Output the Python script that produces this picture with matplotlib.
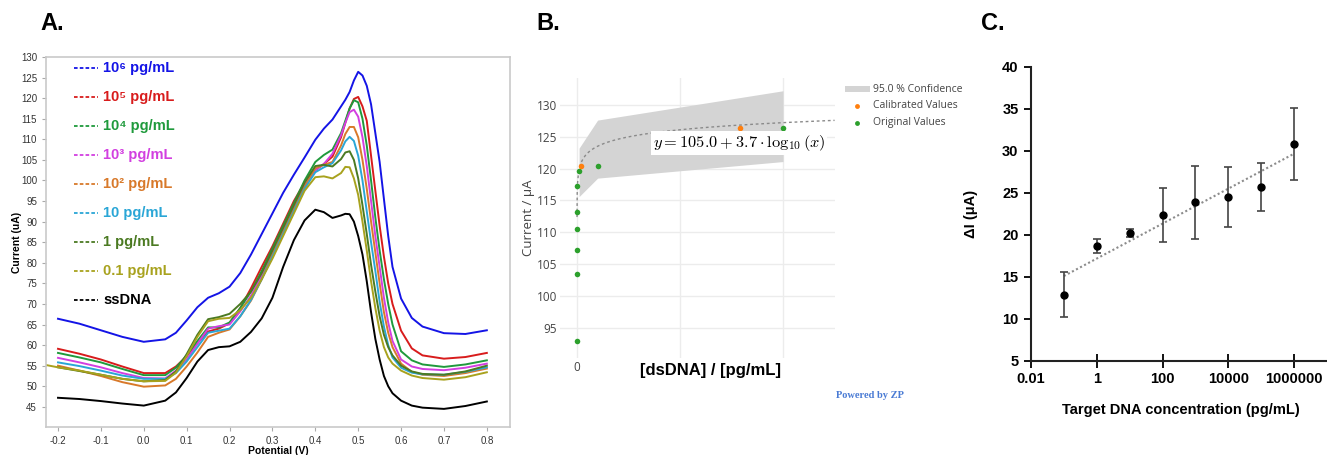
import numpy as np
import matplotlib
matplotlib.use("Agg")
import matplotlib.pyplot as plt
from matplotlib.lines import Line2D
from matplotlib.patches import Rectangle

W, H = 1327, 455
nan = np.nan

# ---------------- Panel A data (DPV curves) ----------------
potential = [-0.23, -0.2, -0.15, -0.1, -0.05, 0.0, 0.05, 0.075, 0.1, 0.125, 0.15, 0.175,
             0.2, 0.225, 0.25, 0.275, 0.3, 0.325, 0.35, 0.375, 0.4, 0.42, 0.44, 0.46,
             0.47, 0.48, 0.49, 0.5, 0.51, 0.52, 0.53, 0.54, 0.55, 0.56, 0.57, 0.58,
             0.6, 0.625, 0.65, 0.7, 0.75, 0.8]

cur_1e6 = [nan, 66.4, 65.2, 63.6, 62.0, 60.8, 61.4, 63.0, 66.0, 69.2, 71.5, 72.6,
           74.2, 77.5, 82.0, 87.0, 92.0, 97.0, 101.4, 105.6, 109.9, 112.6, 114.8, 118.0,
           119.6, 121.5, 124.3, 126.4, 125.5, 123.0, 118.5, 111.5, 104.5, 95.5, 86.5, 79.0,
           71.3, 66.6, 64.5, 62.9, 62.7, 63.6]
cur_1e5 = [nan, 59.1, 57.9, 56.5, 54.8, 53.2, 53.2, 54.8, 57.3, 60.5, 63.3, 64.0,
           65.3, 69.0, 73.8, 79.0, 84.0, 89.5, 95.0, 99.5, 102.5, 104.0, 105.8, 110.5,
           114.0, 117.5, 119.8, 120.3, 118.0, 114.5, 106.0, 97.5, 89.0, 81.5, 75.0, 70.0,
           63.5, 59.2, 57.5, 56.7, 57.1, 58.1]
cur_1e4 = [nan, 58.1, 57.0, 55.8, 54.2, 52.7, 52.7, 54.5, 57.5, 61.0, 64.3, 64.3,
           65.5, 69.0, 73.0, 78.0, 83.5, 89.0, 94.5, 100.0, 104.5, 106.2, 107.5, 111.5,
           114.5, 117.5, 119.5, 119.0, 115.0, 108.5, 100.0, 91.0, 83.0, 76.0, 70.0, 65.0,
           58.5, 56.3, 55.3, 54.7, 55.3, 56.3]
cur_1e3 = [nan, 56.9, 55.8, 54.6, 53.2, 52.0, 51.9, 53.8, 56.5, 60.3, 64.0, 64.6,
           65.0, 68.2, 72.0, 77.0, 82.5, 88.0, 93.5, 99.0, 102.5, 104.0, 106.5, 111.0,
           114.0, 116.6, 117.2, 115.5, 110.5, 103.5, 95.0, 86.5, 79.0, 71.5, 65.5, 61.0,
           56.5, 54.8, 54.2, 53.9, 54.5, 55.5]
cur_1e2 = [nan, 55.0, 53.8, 52.5, 51.0, 49.9, 50.2, 51.8, 54.8, 58.2, 62.0, 63.0,
           63.8, 67.0, 70.8, 76.0, 82.0, 87.5, 93.0, 98.5, 103.0, 103.8, 104.5, 108.5,
           111.3, 113.0, 113.0, 110.5, 105.0, 98.0, 90.0, 82.5, 75.0, 68.0, 63.0, 59.5,
           55.5, 53.5, 52.8, 52.5, 53.2, 54.3]
cur_1e1 = [nan, 55.8, 54.9, 53.8, 52.6, 51.8, 51.8, 53.2, 56.0, 59.5, 63.0, 63.5,
           64.0, 67.0, 71.0, 76.0, 81.5, 87.0, 92.5, 98.0, 102.0, 103.2, 104.2, 107.3,
           109.5, 110.6, 109.6, 106.0, 100.0, 92.5, 85.0, 78.0, 70.5, 64.5, 60.0, 57.0,
           54.5, 53.3, 52.9, 52.8, 53.5, 54.6]
cur_1e0 = [nan, 54.6, 53.7, 52.8, 51.8, 51.2, 51.5, 53.6, 57.8, 62.5, 66.3, 66.8,
           67.6, 70.0, 73.0, 77.5, 83.0, 88.5, 94.0, 99.5, 103.5, 103.8, 103.4, 105.2,
           106.8, 107.1, 105.0, 100.5, 94.0, 87.0, 79.5, 73.0, 67.0, 62.5, 59.5, 57.5,
           55.0, 53.6, 53.0, 52.8, 53.6, 55.0]
cur_1e_1 = [55.2, 54.6, 53.8, 52.8, 51.8, 51.2, 51.3, 53.3, 57.3, 62.0, 65.8, 66.4,
            66.6, 68.5, 71.5, 76.0, 81.0, 86.5, 92.0, 97.5, 100.8, 101.0, 100.5, 101.8,
            103.3, 103.2, 100.5, 96.5, 90.0, 83.0, 75.5, 69.0, 63.5, 59.5, 57.0, 55.5,
            53.8, 52.6, 52.0, 51.6, 52.2, 53.4]
cur_ss = [nan, 47.2, 46.9, 46.4, 45.8, 45.3, 46.5, 48.5, 52.0, 56.0, 58.8, 59.5,
          59.7, 60.8, 63.2, 66.5, 71.5, 79.0, 85.5, 90.3, 92.9, 92.3, 90.9, 91.5,
          91.9, 91.8, 90.0, 86.5, 82.0, 75.5, 68.0, 61.5, 56.5, 52.5, 50.0, 48.3,
          46.5, 45.3, 44.8, 44.5, 45.2, 46.3]

a_labels = ["10\u2076 pg/mL", "10\u2075 pg/mL", "10\u2074 pg/mL", "10\u00b3 pg/mL",
            "10\u00b2 pg/mL", "10 pg/mL", "1 pg/mL", "0.1 pg/mL", "ssDNA"]
a_series = [cur_1e6, cur_1e5, cur_1e4, cur_1e3, cur_1e2, cur_1e1, cur_1e0, cur_1e_1, cur_ss]
a_colors = ["#1414e6", "#d81c1c", "#1f9a3c", "#d23fe0", "#d8792a", "#2aa6d6",
            "#4b7a22", "#a8a21e", "#000000"]

# ---------------- Panel B data ----------------
b_conc = [0, 0.1, 1, 10, 100, 1000, 1e4, 1e5, 1e6]
b_current = [92.9, 103.5, 107.3, 110.6, 113.2, 117.3, 119.6, 120.4, 126.4]
b_calib_conc = [1.8e4, 7.9e5]
b_calib_current = [120.4, 126.4]
b_band_conc = [1e4, 1e5, 1e6]
b_band_upper = [123.2, 127.6, 132.2]
b_band_lower = [115.6, 118.5, 121.1]
b_fit_intercept, b_fit_slope = 105.0, 3.7

# ---------------- Panel C data ----------------
c_conc = [0.1, 1, 10, 100, 1000, 1e4, 1e5, 1e6]
c_delta_i = [12.9, 18.7, 20.2, 22.4, 23.85, 24.5, 25.7, 30.8]
c_err = [2.7, 0.85, 0.45, 3.2, 4.3, 3.6, 2.9, 4.25]
c_ticks = [0.01, 1, 100, 1e4, 1e6]
c_ticklabels = ["0.01", "1", "100", "10000", "1000000"]


def box(l, t, r, b):
    return [l / W, 1 - b / H, (r - l) / W, (b - t) / H]


def fx(px):
    return px / W


def fy(py):
    return 1 - py / H


SANS = "Liberation Sans"
fig = plt.figure(figsize=(W / 100, H / 100), dpi=100)

# ======================= Panel A =======================
axA = fig.add_axes(box(46, 57, 510, 427))
for y, c in zip(a_series, a_colors):
    axA.plot(potential, y, color=c, lw=1.4)
axA.set_xlim(-0.228, 0.854)
axA.set_ylim(40.1, 130)
axA.set_xticks(np.round(np.arange(-0.2, 0.81, 0.1), 1))
axA.set_xticklabels([f"{v:.1f}" for v in np.arange(-0.2, 0.81, 0.1)])
axA.set_yticks(range(45, 131, 5))
for s in axA.spines.values():
    s.set_color("#c9c9c9")
    s.set_linewidth(1.2)
axA.tick_params(labelsize=7, colors="#333333", length=3, width=0.8)
axA.tick_params(axis="both", color="#aaaaaa")
for lab in axA.get_xticklabels() + axA.get_yticklabels():
    lab.set_family(SANS)
axA.set_ylabel("Current (uA)", fontsize=7.5, fontweight="bold", family=SANS)
axA.yaxis.set_label_coords(-0.052, 0.5)
axA.set_xlabel("Potential (V)", fontsize=7.5, fontweight="bold", family=SANS)
axA.xaxis.set_label_coords(0.5, -0.05)

for i, (lab, c) in enumerate(zip(a_labels, a_colors)):
    ypx = 68 + 29 * i
    fig.add_artist(Line2D([fx(74), fx(98)], [fy(ypx), fy(ypx)], color=c, lw=1.3,
                          dashes=(2.0, 1.2), transform=fig.transFigure))
    fig.text(fx(103), fy(ypx), lab, color=c, fontsize=10.5, fontweight="bold",
             family=SANS, ha="left", va="center")

fig.text(fx(40), fy(24), "A.", fontsize=17, fontweight="bold", family=SANS,
         ha="left", va="center")

# ======================= Panel B =======================
axB = fig.add_axes(box(560, 78, 835, 358))
axB.fill_between(b_band_conc, b_band_lower, b_band_upper, color="#d4d4d4", lw=0,
                 zorder=1)
x_fit = np.concatenate([[100, 1000], np.linspace(3e3, 1.25e6, 300)])
axB.plot(x_fit, b_fit_intercept + b_fit_slope * np.log10(x_fit), color="#8a8a8a",
         lw=1.0, ls=(0, (2, 2)), zorder=2)
axB.plot(b_conc, b_current, "o", color="#2ca02c", ms=4, mew=0, zorder=4)
axB.plot(b_calib_conc, b_calib_current, "o", color="#ff7f0e", ms=4, mew=0, zorder=4)
axB.set_xlim(-82.5e3, 1.252e6)
axB.set_ylim(90.3, 134.2)
axB.set_yticks(range(95, 131, 5))
axB.set_xticks([0, 5e5, 1e6])
axB.set_xticklabels(["0", "", ""])
axB.grid(True, color="#ececec", lw=1.0)
axB.set_axisbelow(True)
for s in axB.spines.values():
    s.set_visible(False)
axB.tick_params(length=0, labelsize=8.5, colors="#444444", pad=2)
for lab in axB.get_xticklabels() + axB.get_yticklabels():
    lab.set_family("Open Sans")
axB.set_ylabel("Current / \u03bcA", fontsize=9.5, color="#444444", family="Open Sans")
axB.yaxis.set_label_coords(-0.09, 0.5)
fig.text(fx(739), fy(143), r"$y = 105.0 + 3.7 \cdot \log_{10}(x)$", fontsize=11.8,
         ha="center", va="center", math_fontfamily="cm",
         bbox=dict(facecolor="white", edgecolor="none", pad=1.5), zorder=10)
fig.text(fx(710), fy(370), "[dsDNA] / [pg/mL]", fontsize=12, fontweight="bold",
         family=SANS, ha="center", va="center")

# legend B
fig.add_artist(Rectangle((fx(845), fy(92)), fx(25), 6 / H, color="#d4d4d4",
                         transform=fig.transFigure, lw=0))
fig.add_artist(Line2D([fx(857)], [fy(106)], marker="o", color="#ff7f0e", ms=3.5, mew=0,
                      transform=fig.transFigure))
fig.add_artist(Line2D([fx(857)], [fy(123)], marker="o", color="#2ca02c", ms=3.5, mew=0,
                      transform=fig.transFigure))
for ypx, txt in zip([89, 106, 123], ["95.0 % Confidence", "Calibrated Values",
                                     "Original Values"]):
    fig.text(fx(873), fy(ypx), txt, fontsize=7.5, color="#444444", family="Open Sans",
             ha="left", va="center")
fig.text(fx(870), fy(395), "Powered by ZP", fontsize=7.5, color="#4a7bd4",
         family="Liberation Serif", fontweight="bold", ha="center", va="center")
fig.text(fx(536), fy(24), "B.", fontsize=17, fontweight="bold", family=SANS,
         ha="left", va="center")

# ======================= Panel C =======================
axC = fig.add_axes(box(1031, 66.7, 1327, 361))
axC.set_xscale("log")
xs = np.log10(c_conc)
coef = np.polyfit(xs, c_delta_i, 1)
axC.plot([c_conc[0], c_conc[-1]], np.polyval(coef, [xs[0], xs[-1]]), color="#8c8c8c",
         lw=1.5, ls=(0, (1, 1.2)), zorder=2)
axC.errorbar(c_conc, c_delta_i, yerr=c_err, fmt="o", color="black", ms=5,
             ecolor="#444444", elinewidth=1.2, capsize=3, capthick=1.2, zorder=3)
axC.set_xlim(0.01, 1e7)
axC.set_ylim(5, 40)
axC.set_yticks(range(5, 41, 5))
axC.set_xticks(c_ticks)
axC.set_xticklabels(c_ticklabels)
axC.xaxis.set_minor_locator(matplotlib.ticker.NullLocator())
for side in ["top", "right"]:
    axC.spines[side].set_visible(False)
for side in ["left", "bottom"]:
    axC.spines[side].set_linewidth(1.5)
    axC.spines[side].set_color("#222222")
axC.tick_params(axis="y", direction="out", length=5, width=1.3, pad=4)
axC.tick_params(axis="x", direction="inout", length=10, width=1.3, pad=3)
for lab in axC.get_xticklabels() + axC.get_yticklabels():
    lab.set_family(SANS)
    lab.set_fontweight("bold")
    lab.set_fontsize(10.5)
axC.set_ylabel("\u0394I (\u03bcA)", fontsize=10.5, fontweight="bold", family=SANS)
axC.yaxis.set_label_coords(-0.18, 0.5)
fig.text(fx(1181), fy(410), "Target DNA concentration (pg/mL)", fontsize=10.5,
         fontweight="bold", family=SANS, ha="center", va="center")
fig.text(fx(981), fy(24), "C.", fontsize=17, fontweight="bold", family=SANS,
         ha="left", va="center")

fig.savefig("out.png", dpi=100)
